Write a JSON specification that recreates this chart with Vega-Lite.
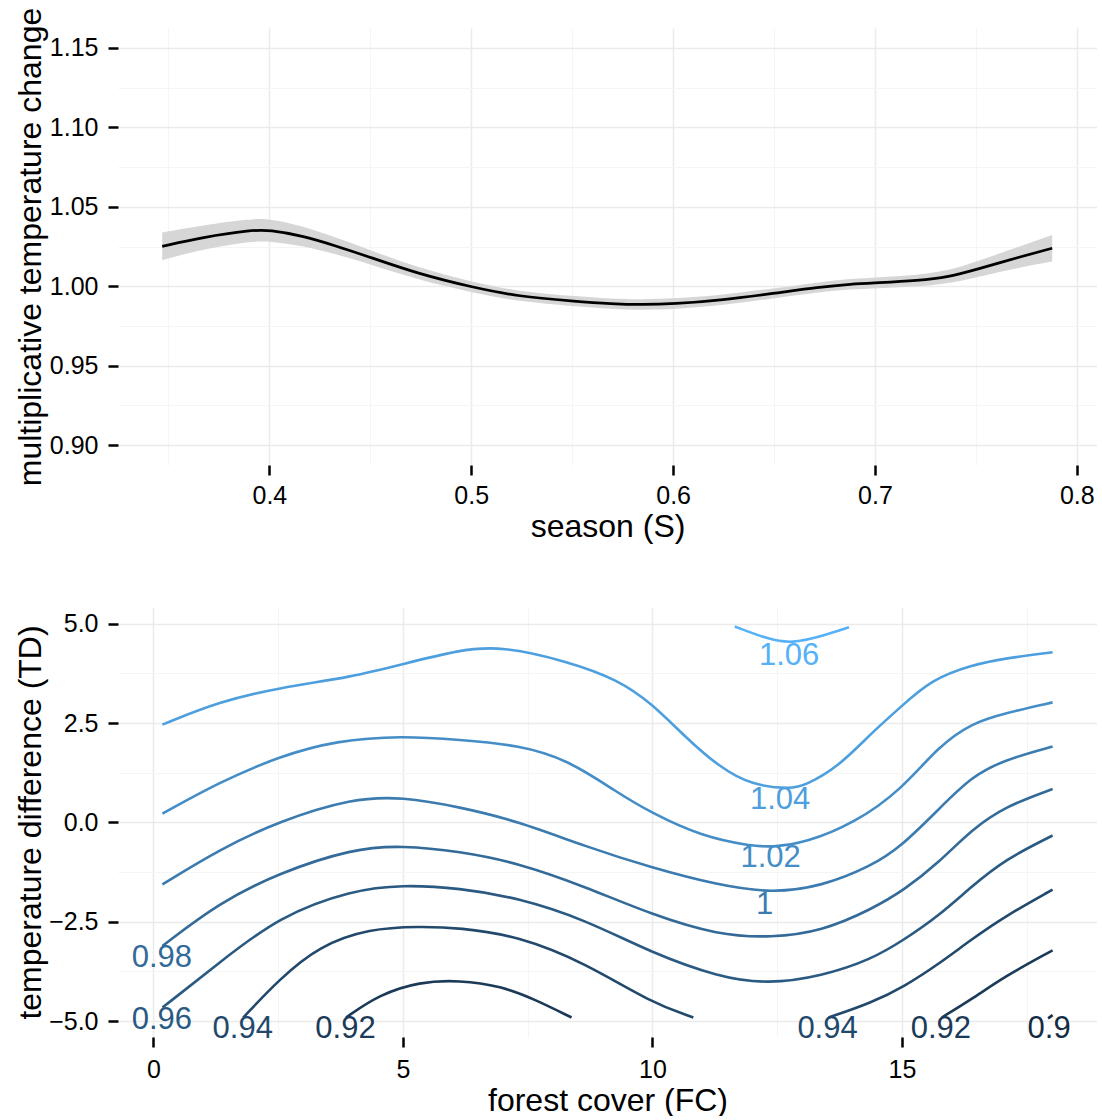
{
  "$schema": "https://vega.github.io/schema/vega-lite/v6.json",
  "background": "white",
  "padding": {"left": 13, "top": 7, "right": 0, "bottom": 0},
  "config": {
    "view": {"stroke": null},
    "font": "Liberation Sans",
    "axis": {
      "labelFont": "Liberation Sans",
      "labelFontSize": 25,
      "labelColor": "#000000",
      "titleFont": "Liberation Sans",
      "titleFontSize": 32,
      "titleFontWeight": "normal",
      "titleColor": "#000000",
      "domain": false,
      "tickColor": "#000000",
      "tickSize": 10,
      "tickWidth": 2.5,
      "labelOverlap": false,
      "labelFlush": false
    }
  },
  "datasets": {
    "smooth": [
      {"S": 0.3469, "fit": 1.0251, "lo": 1.0164, "hi": 1.0338},
      {"S": 0.3667, "fit": 1.0308, "lo": 1.0233, "hi": 1.0383},
      {"S": 0.3914, "fit": 1.0354, "lo": 1.0283, "hi": 1.0425},
      {"S": 0.4000, "fit": 1.0354, "lo": 1.0284, "hi": 1.0424},
      {"S": 0.4162, "fit": 1.0318, "lo": 1.0255, "hi": 1.0381},
      {"S": 0.4327, "fit": 1.0255, "lo": 1.0203, "hi": 1.0307},
      {"S": 0.4500, "fit": 1.0182, "lo": 1.0137, "hi": 1.0227},
      {"S": 0.4740, "fit": 1.0077, "lo": 1.0039, "hi": 1.0115},
      {"S": 0.5003, "fit": 0.9994, "lo": 0.9961, "hi": 1.0027},
      {"S": 0.5235, "fit": 0.9935, "lo": 0.9903, "hi": 0.9967},
      {"S": 0.5507, "fit": 0.9906, "lo": 0.9874, "hi": 0.9938},
      {"S": 0.5697, "fit": 0.9889, "lo": 0.9857, "hi": 0.9921},
      {"S": 0.5845, "fit": 0.9884, "lo": 0.9851, "hi": 0.9917},
      {"S": 0.6007, "fit": 0.9889, "lo": 0.9855, "hi": 0.9923},
      {"S": 0.6225, "fit": 0.9910, "lo": 0.9877, "hi": 0.9943},
      {"S": 0.6505, "fit": 0.9956, "lo": 0.9925, "hi": 0.9987},
      {"S": 0.6720, "fit": 0.9994, "lo": 0.9963, "hi": 1.0025},
      {"S": 0.6885, "fit": 1.0014, "lo": 0.9981, "hi": 1.0047},
      {"S": 0.7008, "fit": 1.0021, "lo": 0.9986, "hi": 1.0056},
      {"S": 0.7215, "fit": 1.0035, "lo": 0.9999, "hi": 1.0071},
      {"S": 0.7363, "fit": 1.0057, "lo": 1.0017, "hi": 1.0097},
      {"S": 0.7512, "fit": 1.0109, "lo": 1.0059, "hi": 1.0159},
      {"S": 0.7710, "fit": 1.0182, "lo": 1.0117, "hi": 1.0247},
      {"S": 0.7878, "fit": 1.0239, "lo": 1.0156, "hi": 1.0322}
    ],
    "contours": [
      {"fc": 11.65, "td": 4.93, "level": 1.06, "piece": "c106", "i": 1},
      {"fc": 12.32, "td": 4.61, "level": 1.06, "piece": "c106", "i": 2},
      {"fc": 12.79, "td": 4.50, "level": 1.06, "piece": "c106", "i": 3},
      {"fc": 13.39, "td": 4.68, "level": 1.06, "piece": "c106", "i": 4},
      {"fc": 13.94, "td": 4.91, "level": 1.06, "piece": "c106", "i": 5},

      {"fc": 0.18, "td": 2.46, "level": 1.04, "piece": "c104", "i": 1},
      {"fc": 1.32, "td": 3.04, "level": 1.04, "piece": "c104", "i": 2},
      {"fc": 2.52, "td": 3.39, "level": 1.04, "piece": "c104", "i": 3},
      {"fc": 3.99, "td": 3.66, "level": 1.04, "piece": "c104", "i": 4},
      {"fc": 4.99, "td": 3.98, "level": 1.04, "piece": "c104", "i": 5},
      {"fc": 6.13, "td": 4.34, "level": 1.04, "piece": "c104", "i": 6},
      {"fc": 6.97, "td": 4.44, "level": 1.04, "piece": "c104", "i": 7},
      {"fc": 8.31, "td": 4.05, "level": 1.04, "piece": "c104", "i": 8},
      {"fc": 9.31, "td": 3.59, "level": 1.04, "piece": "c104", "i": 9},
      {"fc": 9.98, "td": 3.00, "level": 1.04, "piece": "c104", "i": 10},
      {"fc": 10.65, "td": 2.16, "level": 1.04, "piece": "c104", "i": 11},
      {"fc": 11.32, "td": 1.41, "level": 1.04, "piece": "c104", "i": 12},
      {"fc": 11.99, "td": 0.93, "level": 1.04, "piece": "c104", "i": 13},
      {"fc": 12.79, "td": 0.84, "level": 1.04, "piece": "c104", "i": 14},
      {"fc": 13.06, "td": 0.93, "level": 1.04, "piece": "c104", "i": 15},
      {"fc": 13.73, "td": 1.40, "level": 1.04, "piece": "c104", "i": 16},
      {"fc": 14.39, "td": 2.25, "level": 1.04, "piece": "c104", "i": 17},
      {"fc": 14.99, "td": 2.92, "level": 1.04, "piece": "c104", "i": 18},
      {"fc": 15.59, "td": 3.59, "level": 1.04, "piece": "c104", "i": 19},
      {"fc": 16.40, "td": 3.96, "level": 1.04, "piece": "c104", "i": 20},
      {"fc": 17.07, "td": 4.13, "level": 1.04, "piece": "c104", "i": 21},
      {"fc": 18.02, "td": 4.28, "level": 1.04, "piece": "c104", "i": 22},

      {"fc": 0.18, "td": 0.22, "level": 1.02, "piece": "c102", "i": 1},
      {"fc": 1.32, "td": 1.01, "level": 1.02, "piece": "c102", "i": 2},
      {"fc": 2.52, "td": 1.66, "level": 1.02, "piece": "c102", "i": 3},
      {"fc": 3.66, "td": 2.06, "level": 1.02, "piece": "c102", "i": 4},
      {"fc": 4.99, "td": 2.18, "level": 1.02, "piece": "c102", "i": 5},
      {"fc": 6.13, "td": 2.08, "level": 1.02, "piece": "c102", "i": 6},
      {"fc": 7.31, "td": 1.95, "level": 1.02, "piece": "c102", "i": 7},
      {"fc": 8.31, "td": 1.58, "level": 1.02, "piece": "c102", "i": 8},
      {"fc": 9.31, "td": 0.74, "level": 1.02, "piece": "c102", "i": 9},
      {"fc": 9.98, "td": 0.24, "level": 1.02, "piece": "c102", "i": 10},
      {"fc": 10.98, "td": -0.35, "level": 1.02, "piece": "c102", "i": 11},
      {"fc": 11.99, "td": -0.60, "level": 1.02, "piece": "c102", "i": 12},
      {"fc": 12.39, "td": -0.62, "level": 1.02, "piece": "c102", "i": 13},
      {"fc": 13.06, "td": -0.52, "level": 1.02, "piece": "c102", "i": 14},
      {"fc": 14.06, "td": -0.01, "level": 1.02, "piece": "c102", "i": 15},
      {"fc": 14.99, "td": 0.82, "level": 1.02, "piece": "c102", "i": 16},
      {"fc": 15.73, "td": 1.91, "level": 1.02, "piece": "c102", "i": 17},
      {"fc": 16.40, "td": 2.50, "level": 1.02, "piece": "c102", "i": 18},
      {"fc": 17.07, "td": 2.75, "level": 1.02, "piece": "c102", "i": 19},
      {"fc": 18.02, "td": 3.02, "level": 1.02, "piece": "c102", "i": 20},

      {"fc": 0.18, "td": -1.56, "level": 1.00, "piece": "c100", "i": 1},
      {"fc": 1.32, "td": -0.68, "level": 1.00, "piece": "c100", "i": 2},
      {"fc": 2.52, "td": 0.03, "level": 1.00, "piece": "c100", "i": 3},
      {"fc": 3.99, "td": 0.61, "level": 1.00, "piece": "c100", "i": 4},
      {"fc": 4.99, "td": 0.64, "level": 1.00, "piece": "c100", "i": 5},
      {"fc": 6.13, "td": 0.39, "level": 1.00, "piece": "c100", "i": 6},
      {"fc": 7.31, "td": 0.03, "level": 1.00, "piece": "c100", "i": 7},
      {"fc": 8.64, "td": -0.60, "level": 1.00, "piece": "c100", "i": 8},
      {"fc": 9.98, "td": -1.14, "level": 1.00, "piece": "c100", "i": 9},
      {"fc": 11.32, "td": -1.58, "level": 1.00, "piece": "c100", "i": 10},
      {"fc": 12.39, "td": -1.78, "level": 1.00, "piece": "c100", "i": 11},
      {"fc": 13.39, "td": -1.61, "level": 1.00, "piece": "c100", "i": 12},
      {"fc": 14.39, "td": -1.10, "level": 1.00, "piece": "c100", "i": 13},
      {"fc": 14.99, "td": -0.60, "level": 1.00, "piece": "c100", "i": 14},
      {"fc": 15.73, "td": 0.32, "level": 1.00, "piece": "c100", "i": 15},
      {"fc": 16.40, "td": 1.16, "level": 1.00, "piece": "c100", "i": 16},
      {"fc": 17.07, "td": 1.58, "level": 1.00, "piece": "c100", "i": 17},
      {"fc": 18.02, "td": 1.91, "level": 1.00, "piece": "c100", "i": 18},

      {"fc": 0.18, "td": -3.11, "level": 0.98, "piece": "c098", "i": 1},
      {"fc": 1.32, "td": -2.02, "level": 0.98, "piece": "c098", "i": 2},
      {"fc": 2.52, "td": -1.27, "level": 0.98, "piece": "c098", "i": 3},
      {"fc": 3.99, "td": -0.66, "level": 0.98, "piece": "c098", "i": 4},
      {"fc": 4.99, "td": -0.58, "level": 0.98, "piece": "c098", "i": 5},
      {"fc": 6.13, "td": -0.73, "level": 0.98, "piece": "c098", "i": 6},
      {"fc": 7.31, "td": -1.02, "level": 0.98, "piece": "c098", "i": 7},
      {"fc": 8.64, "td": -1.61, "level": 0.98, "piece": "c098", "i": 8},
      {"fc": 9.98, "td": -2.32, "level": 0.98, "piece": "c098", "i": 9},
      {"fc": 11.32, "td": -2.84, "level": 0.98, "piece": "c098", "i": 10},
      {"fc": 12.39, "td": -2.90, "level": 0.98, "piece": "c098", "i": 11},
      {"fc": 13.39, "td": -2.74, "level": 0.98, "piece": "c098", "i": 12},
      {"fc": 14.39, "td": -2.19, "level": 0.98, "piece": "c098", "i": 13},
      {"fc": 15.06, "td": -1.69, "level": 0.98, "piece": "c098", "i": 14},
      {"fc": 15.73, "td": -1.02, "level": 0.98, "piece": "c098", "i": 15},
      {"fc": 16.40, "td": -0.18, "level": 0.98, "piece": "c098", "i": 16},
      {"fc": 17.07, "td": 0.40, "level": 0.98, "piece": "c098", "i": 17},
      {"fc": 18.02, "td": 0.84, "level": 0.98, "piece": "c098", "i": 18},

      {"fc": 0.18, "td": -4.66, "level": 0.96, "piece": "c096", "i": 1},
      {"fc": 1.32, "td": -3.53, "level": 0.96, "piece": "c096", "i": 2},
      {"fc": 2.52, "td": -2.36, "level": 0.96, "piece": "c096", "i": 3},
      {"fc": 3.99, "td": -1.70, "level": 0.96, "piece": "c096", "i": 4},
      {"fc": 4.99, "td": -1.57, "level": 0.96, "piece": "c096", "i": 5},
      {"fc": 6.13, "td": -1.65, "level": 0.96, "piece": "c096", "i": 6},
      {"fc": 7.31, "td": -1.90, "level": 0.96, "piece": "c096", "i": 7},
      {"fc": 8.64, "td": -2.44, "level": 0.96, "piece": "c096", "i": 8},
      {"fc": 9.98, "td": -3.28, "level": 0.96, "piece": "c096", "i": 9},
      {"fc": 11.32, "td": -3.89, "level": 0.96, "piece": "c096", "i": 10},
      {"fc": 12.32, "td": -4.07, "level": 0.96, "piece": "c096", "i": 11},
      {"fc": 13.39, "td": -3.87, "level": 0.96, "piece": "c096", "i": 12},
      {"fc": 14.39, "td": -3.45, "level": 0.96, "piece": "c096", "i": 13},
      {"fc": 15.06, "td": -2.94, "level": 0.96, "piece": "c096", "i": 14},
      {"fc": 15.73, "td": -2.36, "level": 0.96, "piece": "c096", "i": 15},
      {"fc": 16.40, "td": -1.61, "level": 0.96, "piece": "c096", "i": 16},
      {"fc": 17.07, "td": -0.93, "level": 0.96, "piece": "c096", "i": 17},
      {"fc": 18.02, "td": -0.33, "level": 0.96, "piece": "c096", "i": 18},

      {"fc": 1.80, "td": -4.91, "level": 0.94, "piece": "c094a", "i": 1},
      {"fc": 2.52, "td": -3.95, "level": 0.94, "piece": "c094a", "i": 2},
      {"fc": 3.32, "td": -3.11, "level": 0.94, "piece": "c094a", "i": 3},
      {"fc": 4.33, "td": -2.67, "level": 0.94, "piece": "c094a", "i": 4},
      {"fc": 5.33, "td": -2.62, "level": 0.94, "piece": "c094a", "i": 5},
      {"fc": 6.13, "td": -2.65, "level": 0.94, "piece": "c094a", "i": 6},
      {"fc": 7.31, "td": -2.86, "level": 0.94, "piece": "c094a", "i": 7},
      {"fc": 8.64, "td": -3.53, "level": 0.94, "piece": "c094a", "i": 8},
      {"fc": 9.98, "td": -4.54, "level": 0.94, "piece": "c094a", "i": 9},
      {"fc": 10.82, "td": -4.91, "level": 0.94, "piece": "c094a", "i": 10},

      {"fc": 13.53, "td": -4.91, "level": 0.94, "piece": "c094b", "i": 1},
      {"fc": 14.39, "td": -4.54, "level": 0.94, "piece": "c094b", "i": 2},
      {"fc": 15.06, "td": -4.12, "level": 0.94, "piece": "c094b", "i": 3},
      {"fc": 15.73, "td": -3.57, "level": 0.94, "piece": "c094b", "i": 4},
      {"fc": 16.40, "td": -2.94, "level": 0.94, "piece": "c094b", "i": 5},
      {"fc": 17.07, "td": -2.36, "level": 0.94, "piece": "c094b", "i": 6},
      {"fc": 18.02, "td": -1.69, "level": 0.94, "piece": "c094b", "i": 7},

      {"fc": 3.86, "td": -4.91, "level": 0.92, "piece": "c092a", "i": 1},
      {"fc": 4.53, "td": -4.33, "level": 0.92, "piece": "c092a", "i": 2},
      {"fc": 5.33, "td": -4.01, "level": 0.92, "piece": "c092a", "i": 3},
      {"fc": 6.13, "td": -3.97, "level": 0.92, "piece": "c092a", "i": 4},
      {"fc": 6.97, "td": -4.12, "level": 0.92, "piece": "c092a", "i": 5},
      {"fc": 7.64, "td": -4.45, "level": 0.92, "piece": "c092a", "i": 6},
      {"fc": 8.38, "td": -4.91, "level": 0.92, "piece": "c092a", "i": 7},

      {"fc": 15.80, "td": -4.91, "level": 0.92, "piece": "c092b", "i": 1},
      {"fc": 16.40, "td": -4.45, "level": 0.92, "piece": "c092b", "i": 2},
      {"fc": 17.07, "td": -3.87, "level": 0.92, "piece": "c092b", "i": 3},
      {"fc": 18.02, "td": -3.22, "level": 0.92, "piece": "c092b", "i": 4},

      {"fc": 17.93, "td": -4.93, "level": 0.90, "piece": "c090", "i": 1},
      {"fc": 18.02, "td": -4.85, "level": 0.90, "piece": "c090", "i": 2}
    ],
    "labels": [
      {"fc": 12.74, "td": 4.19, "label": "1.06", "level": 1.06},
      {"fc": 12.56, "td": 0.565, "label": "1.04", "level": 1.04},
      {"fc": 12.37, "td": -0.90, "label": "1.02", "level": 1.02},
      {"fc": 12.25, "td": -2.07, "label": "1", "level": 1.00},
      {"fc": 0.17, "td": -3.42, "label": "0.98", "level": 0.98},
      {"fc": 0.17, "td": -4.98, "label": "0.96", "level": 0.96},
      {"fc": 1.79, "td": -5.19, "label": "0.94", "level": 0.94},
      {"fc": 3.85, "td": -5.19, "label": "0.92", "level": 0.92},
      {"fc": 13.51, "td": -5.19, "label": "0.94", "level": 0.94},
      {"fc": 15.78, "td": -5.19, "label": "0.92", "level": 0.92},
      {"fc": 17.95, "td": -5.19, "label": "0.9", "level": 0.90}
    ]
  },
  "bounds": "flush",
  "spacing": 142,
  "vconcat": [
    {
      "width": 979,
      "height": 437,
      "layer": [
        {
          "data": {"name": "smooth"},
          "mark": {"type": "area", "color": "#d6d6d6", "interpolate": "basis"},
          "encoding": {
            "x": {
              "field": "S", "type": "quantitative",
              "scale": {"domain": [0.325, 0.81], "nice": false, "zero": false},
              "axis": {
                "title": "season (S)",
                "values": [0.35, 0.4, 0.45, 0.5, 0.55, 0.6, 0.65, 0.7, 0.75, 0.8],
                "labelExpr": "abs(datum.value*10 - round(datum.value*10)) < 0.001 ? format(datum.value, '.1f') : ''",
                "labelPadding": 8,
                "tickOpacity": {"condition": {"test": "abs(datum.value*10 - round(datum.value*10)) < 0.001", "value": 1}, "value": 0},
                "gridColor": {"condition": {"test": "abs(datum.value*10 - round(datum.value*10)) < 0.001", "value": "#EBEBEB"}, "value": "#F5F5F5"},
                "gridWidth": {"condition": {"test": "abs(datum.value*10 - round(datum.value*10)) < 0.001", "value": 1.5}, "value": 1},
                "titleBaseline": "alphabetic",
                "titleY": 71
              }
            },
            "y": {
              "field": "lo", "type": "quantitative",
              "scale": {"domain": [0.8875, 1.1625], "nice": false, "zero": false},
              "axis": {
                "title": "multiplicative temperature change",
                "values": [0.9, 0.925, 0.95, 0.975, 1.0, 1.025, 1.05, 1.075, 1.1, 1.125, 1.15],
                "labelExpr": "abs(datum.value*20 - round(datum.value*20)) < 0.001 ? format(datum.value, '.2f') : ''",
                "labelPadding": 10,
                "tickOpacity": {"condition": {"test": "abs(datum.value*20 - round(datum.value*20)) < 0.001", "value": 1}, "value": 0},
                "gridColor": {"condition": {"test": "abs(datum.value*20 - round(datum.value*20)) < 0.001", "value": "#EBEBEB"}, "value": "#F5F5F5"},
                "gridWidth": {"condition": {"test": "abs(datum.value*20 - round(datum.value*20)) < 0.001", "value": 1.5}, "value": 1},
                "titleBaseline": "alphabetic",
                "titleX": -78
              }
            },
            "y2": {"field": "hi"}
          }
        },
        {
          "data": {"name": "smooth"},
          "mark": {"type": "line", "color": "#000000", "strokeWidth": 2.7, "interpolate": "basis"},
          "encoding": {
            "x": {"field": "S", "type": "quantitative"},
            "y": {"field": "fit", "type": "quantitative"}
          }
        }
      ]
    },
    {
      "width": 979,
      "height": 430,
      "layer": [
        {
          "data": {"name": "contours"},
          "mark": {"type": "line", "strokeWidth": 2.6, "interpolate": "basis"},
          "encoding": {
            "x": {
              "field": "fc", "type": "quantitative",
              "scale": {"domain": [-0.71, 18.91], "nice": false, "zero": false},
              "axis": {
                "title": "forest cover (FC)",
                "values": [0, 2.5, 5, 7.5, 10, 12.5, 15, 17.5],
                "labelExpr": "abs(datum.value/5 - round(datum.value/5)) < 0.001 ? format(datum.value, '.0f') : ''",
                "labelPadding": 10,
                "tickOpacity": {"condition": {"test": "abs(datum.value/5 - round(datum.value/5)) < 0.001", "value": 1}, "value": 0},
                "gridColor": {"condition": {"test": "abs(datum.value/5 - round(datum.value/5)) < 0.001", "value": "#EBEBEB"}, "value": "#F5F5F5"},
                "gridWidth": {"condition": {"test": "abs(datum.value/5 - round(datum.value/5)) < 0.001", "value": 1.5}, "value": 1},
                "titleBaseline": "alphabetic",
                "titleY": 73
              }
            },
            "y": {
              "field": "td", "type": "quantitative",
              "scale": {"domain": [-5.40, 5.42], "nice": false, "zero": false},
              "axis": {
                "title": "temperature difference (TD)",
                "values": [-5, -3.75, -2.5, -1.25, 0, 1.25, 2.5, 3.75, 5],
                "labelExpr": "abs(datum.value/2.5 - round(datum.value/2.5)) < 0.001 ? format(datum.value, '.1f') : ''",
                "labelPadding": 10,
                "tickOpacity": {"condition": {"test": "abs(datum.value/2.5 - round(datum.value/2.5)) < 0.001", "value": 1}, "value": 0},
                "gridColor": {"condition": {"test": "abs(datum.value/2.5 - round(datum.value/2.5)) < 0.001", "value": "#EBEBEB"}, "value": "#F5F5F5"},
                "gridWidth": {"condition": {"test": "abs(datum.value/2.5 - round(datum.value/2.5)) < 0.001", "value": 1.5}, "value": 1},
                "titleBaseline": "alphabetic",
                "titleX": -78
              }
            },
            "detail": {"field": "piece", "type": "nominal"},
            "order": {"field": "i", "type": "quantitative"},
            "color": {
              "field": "level", "type": "quantitative",
              "scale": {"domain": [0.9, 1.06], "range": ["#132B43", "#56B1F7"], "interpolate": "lab"},
              "legend": null
            }
          }
        },
        {
          "data": {"name": "labels"},
          "mark": {"type": "text", "fontSize": 31, "font": "Liberation Sans", "align": "center", "baseline": "middle"},
          "encoding": {
            "x": {"field": "fc", "type": "quantitative"},
            "y": {"field": "td", "type": "quantitative"},
            "text": {"field": "label", "type": "nominal"},
            "color": {"field": "level", "type": "quantitative", "legend": null}
          }
        }
      ]
    }
  ]
}
